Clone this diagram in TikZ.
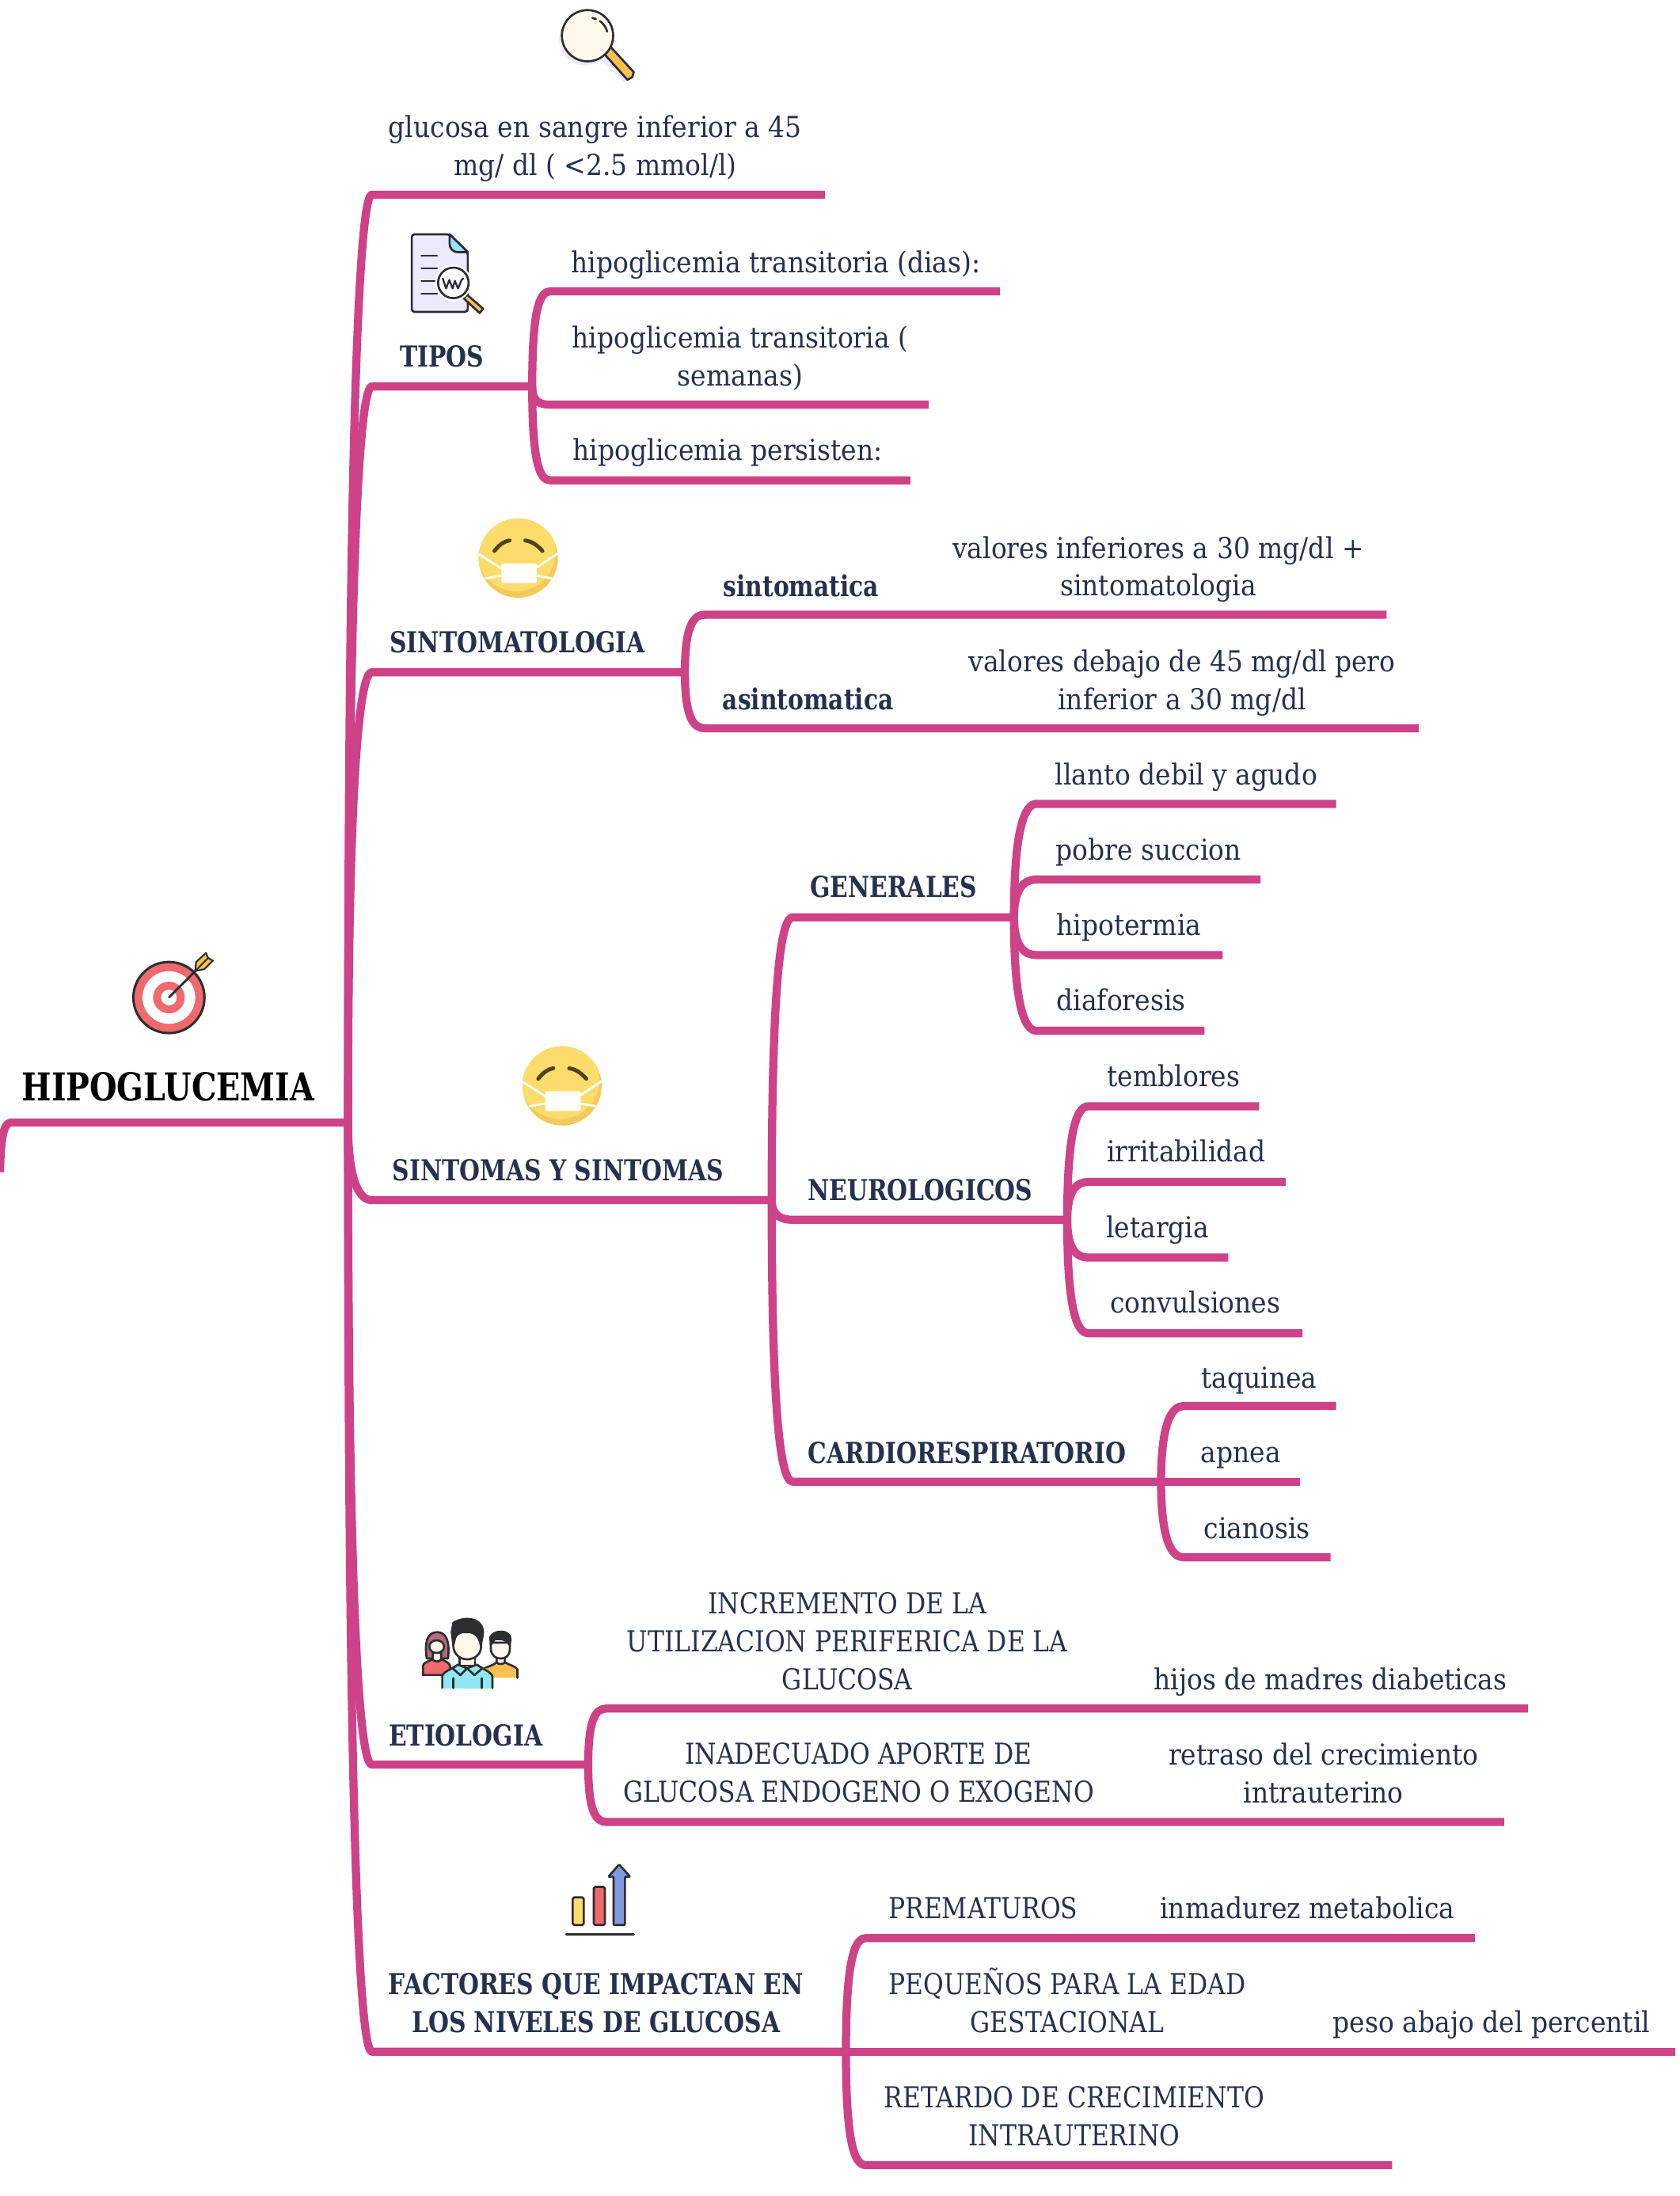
\documentclass[tikz,border=0pt]{standalone}
\usepackage{fontspec}
\setmainfont{DejaVu Serif}[UprightFeatures={FakeStretch=0.905},BoldFeatures={FakeStretch=0.817}]
\newfontfamily\upperfont{DejaVu Serif}[FakeStretch=0.862]
\usetikzlibrary{calc}
\definecolor{mmpink}{RGB}{206,66,135}
\definecolor{mmnavy}{RGB}{37,49,79}
\definecolor{icline}{RGB}{45,45,48}
\definecolor{icorange}{RGB}{255,191,84}
\definecolor{icred}{RGB}{240,105,108}
\definecolor{iccream}{RGB}{255,248,236}
\definecolor{iclav}{RGB}{237,233,255}
\definecolor{icblue}{RGB}{143,232,243}
\definecolor{icyel}{RGB}{252,220,106}
\definecolor{icshade}{RGB}{242,201,90}
\definecolor{icbrow}{RGB}{80,68,32}
\definecolor{icmaroon}{RGB}{176,107,126}
\definecolor{icperi}{RGB}{128,152,222}
\tikzset{
  x=1pt,y=-1pt,
  mmlink/.style={draw=mmpink,line width=5.8pt,line cap=butt,line join=round},
  txt/.style={text=mmnavy,font=\fontsize{20.6}{27}\selectfont,align=center,inner sep=0pt},
  txtup/.style={text=mmnavy,font=\upperfont\fontsize{20.6}{27}\selectfont,align=center,inner sep=0pt},
  hd/.style={text=mmnavy,font=\fontsize{20.6}{27}\selectfont\bfseries,align=center,inner sep=0pt},
  ic/.style={draw=icline,line width=1.5pt,line join=round,line cap=round},
  dsp/.style={x=0.1884pt,y=-0.1884pt},
}
% connector from junction #1 to underline end #2; #3 = horizontal offset of the corner
\newcommand{\branchto}[3]{%
  \path[mmlink] let \p1=(#1),\p2=(#2) in
    (\p1) .. controls ({\x1},{\y1+0.8*(\y2-\y1)}) and ({\x1+#3-8pt},{\y2}) .. ({\x1+#3},{\y2}) -- (\p2);}
\newcommand{\maskface}[2]{%
  \begin{scope}[shift={(#1,#2)}]
    \fill[icshade] (0,0) circle[radius=28.3];
    \begin{scope}
      \clip (0,0) circle[radius=28.3];
      \fill[icyel] (-1.5,-4.6) circle[radius=28.3];
    \end{scope}
    \draw[icbrow,line width=2.8pt,line cap=round] (-17,-5.1) .. controls (-13,-10) and (-10,-12) .. (-6.2,-12.6);
    \draw[icbrow,line width=2.8pt,line cap=round] (5.1,-12.6) .. controls (9,-12) and (13,-10) .. (17.3,-5.1);
    \draw[white,line width=1.6pt] (-27.9,-2.8) -- (-11.9,7.5);
    \draw[white,line width=1.6pt] (-23.7,14.5) -- (-11.9,12.6);
    \draw[white,line width=1.6pt] (28,-3.2) -- (13.2,6.6);
    \draw[white,line width=1.6pt] (24,14.5) -- (13.2,12.6);
    \fill[white,rounded corners=0.8pt] (-11.9,3.8) rectangle (13.2,17.9);
  \end{scope}}
\begin{document}
\begin{tikzpicture}
\path[use as bounding box,fill=white] (0,0) rectangle (1199,1568.1);

% ---- junctions and line ends
\coordinate (rootS) at (0,837);
\coordinate (J0) at (248.5,801.5);
\coordinate (J1) at (380,276);
\coordinate (J2) at (489,480);
\coordinate (J3) at (551,857);
\coordinate (J31) at (724,655);
\coordinate (J32) at (762,871);
\coordinate (J33) at (829,1058);
\coordinate (J5) at (420,1260);
\coordinate (J6) at (604,1465);
\coordinate (eDef) at (589,139);
\coordinate (eT1) at (714,208);
\coordinate (eT2) at (663,289);
\coordinate (eT3) at (650,343);
\coordinate (eS1) at (990,439);
\coordinate (eS2) at (1013,520);
\coordinate (eG1) at (954,574);
\coordinate (eG2) at (900,628);
\coordinate (eG3) at (873,682);
\coordinate (eG4) at (860,736);
\coordinate (eN1) at (899,790);
\coordinate (eN2) at (918,844);
\coordinate (eN3) at (877,898);
\coordinate (eN4) at (930,952);
\coordinate (eC1) at (954,1004);
\coordinate (eC2) at (928,1058);
\coordinate (eC3) at (950,1112);
\coordinate (eE1) at (1091,1220);
\coordinate (eE2) at (1074,1301);
\coordinate (eF1) at (1053,1384);
\coordinate (eF2) at (1196,1465);
\coordinate (eF3) at (994,1546);

% ---- connectors
\path[mmlink] (rootS) .. controls (0.5,815) and (2,801.5) .. (8,801.5) -- (J0);
\branchto{J0}{eDef}{17pt}
\branchto{J0}{J1}{17pt}
\branchto{J0}{J2}{17pt}
\branchto{J0}{J3}{17pt}
\branchto{J0}{J5}{17pt}
\branchto{J0}{J6}{17pt}
\branchto{J1}{eT1}{13pt}
\branchto{J1}{eT2}{13pt}
\branchto{J1}{eT3}{13pt}
\branchto{J2}{eS1}{14pt}
\branchto{J2}{eS2}{14pt}
\branchto{J3}{J31}{15pt}
\branchto{J3}{J32}{15pt}
\branchto{J3}{J33}{15pt}
\branchto{J31}{eG1}{16pt}
\branchto{J31}{eG2}{16pt}
\branchto{J31}{eG3}{16pt}
\branchto{J31}{eG4}{16pt}
\branchto{J32}{eN1}{15pt}
\branchto{J32}{eN2}{15pt}
\branchto{J32}{eN3}{15pt}
\branchto{J32}{eN4}{15pt}
\branchto{J33}{eC1}{16pt}
\path[mmlink] (J33) -- (eC2);
\branchto{J33}{eC3}{16pt}
\branchto{J5}{eE1}{13pt}
\branchto{J5}{eE2}{13pt}
\branchto{J6}{eF1}{14pt}
\path[mmlink] (J6) -- (eF2);
\branchto{J6}{eF3}{14pt}

% ---- texts
\node[font=\fontsize{27.4}{30}\selectfont\bfseries,text=black,inner sep=0pt] (root) at (120,776) {HIPOGLUCEMIA};
\node[txt] (def) at (425,106) {glucosa en sangre inferior a 45\\mg/ dl ( <2.5 mmol/l)};
\node[hd] (tipos) at (315.5,254.5) {TIPOS};
\node[txt] (t1) at (554,189) {hipoglicemia transitoria (dias):};
\node[txt] (t2) at (528.5,256) {hipoglicemia transitoria (\\semanas)};
\node[txt] (t3) at (519.5,323) {hipoglicemia persisten:};
\node[hd] (sinto) at (369.5,458.5) {SINTOMATOLOGIA};
\node[hd] (s1) at (572,418) {sintomatica};
\node[hd] (s2) at (577,499) {asintomatica};
\node[txt] (s1a) at (827,406.5) {valores inferiores a 30 mg/dl +\\sintomatologia};
\node[txt] (s2a) at (844,487.5) {valores debajo de 45 mg/dl pero\\inferior a 30 mg/dl};
\node[hd] (sys) at (398.5,835.5) {SINTOMAS Y SINTOMAS};
\node[hd] (gen) at (638,633.5) {GENERALES};
\node[txt] (g1) at (847,555) {llanto debil y agudo};
\node[txt] (g2) at (820,608.5) {pobre succion};
\node[txt] (g3) at (806,662) {hipotermia};
\node[txt] (g4) at (800.5,714) {diaforesis};
\node[hd] (neu) at (657,849.5) {NEUROLOGICOS};
\node[txt] (n1) at (838,768) {temblores};
\node[txt] (n2) at (847,822) {irritabilidad};
\node[txt] (n3) at (826.5,878) {letargia};
\node[txt] (n4) at (853.5,930) {convulsiones};
\node[hd] (car) at (690.5,1037.5) {CARDIORESPIRATORIO};
\node[txt] (c1) at (899,986) {taquinea};
\node[txt] (c2) at (886,1041) {apnea};
\node[txt] (c3) at (897.5,1091) {cianosis};
\node[hd] (eti) at (332.5,1239.5) {ETIOLOGIA};
\node[txtup] (e1) at (605,1172) {INCREMENTO DE LA\\UTILIZACION PERIFERICA DE LA\\GLUCOSA};
\node[txt] (e1a) at (950,1201) {hijos de madres diabeticas};
\node[txtup] (e2) at (613,1266) {INADECUADO APORTE DE\\GLUCOSA ENDOGENO O EXOGENO};
\node[txt] (e2a) at (945,1266) {retraso del crecimiento\\intrauterino};
\node[hd] (fac) at (425.5,1430.5) {FACTORES QUE IMPACTAN EN\\LOS NIVELES DE GLUCOSA};
\node[txtup] (f1) at (702,1362.5) {PREMATUROS};
\node[txt] (f1a) at (933.5,1362) {inmadurez metabolica};
\node[txtup] (f2) at (762,1428.5) {PEQUEÑOS PARA LA EDAD\\GESTACIONAL};
\node[txt] (f2a) at (1065,1446) {peso abajo del percentil};
\node[txtup] (f3) at (767,1511) {RETARDO DE CRECIMIENTO\\INTRAUTERINO};

% ---- magnifier icon
\fill[iclav] (417.5,28.5) circle[radius=18.3];
\fill[iclav] (428,42) -- (446,59) -- (449,57) -- (432,39) -- cycle;
\draw[ic,fill=icorange] (431,38) -- (436,33.5) -- (452.5,51.5) -- (451.5,55) -- (448,57) -- cycle;
\draw[ic,fill=iccream] (419.5,25.5) circle[radius=18.3];
\draw[ic] (423,12.8) -- (425.5,13.6);
\draw[ic] (428.5,15) .. controls (431,17) and (433,20) .. (433.5,22.6);

% ---- document icon
\draw[ic,fill=iclav,rounded corners=2pt] (294,167.3) -- (321,167.3) -- (334,180) -- (334,222.7) -- (294,222.7) -- cycle;
\draw[ic,fill=icblue] (321,167.3) -- (334,180) -- (327,180) .. controls (323,180) and (321,177) .. (321,174) -- cycle;
\foreach \yy in {182.6,191.6,200.7,209.7} \draw[ic] (301,\yy) -- (312,\yy);
\draw[ic,fill=icorange] (331,213) -- (333.5,210.5) -- (345,220.5) -- (342.5,223.5) -- cycle;
\fill[white] (323.7,202) circle[radius=13];
\draw[ic,fill=white] (323.7,202) circle[radius=10.9];
\draw[icline,line width=1.3pt,line join=round] (316,198.5) -- (318.5,206) -- (320.8,200) -- (323.2,206) -- (324.8,200.5) -- (327,206) -- (329.5,200) -- (331,198.5);

% ---- target icon
\fill[icred] (120.6,712.3) circle[radius=25.4];
\draw[icline,line width=1.7pt] (120.6,712.3) circle[radius=25.4];
\fill[white] (120.6,712.3) circle[radius=18.8];
\fill[icred] (120.6,712.3) circle[radius=11.3];
\fill[white] (120.6,712.3) circle[radius=5.6];
\draw[icline,line width=1.6pt,line cap=round] (120.8,712) -- (139.4,693.4);
\draw[ic,fill=icorange,line width=1.2pt] (139.4,693.4) -- (140,687) -- (147,680.5) -- (148.6,684) -- (152,686) -- (146,692) -- cycle;
\draw[icline,line width=1.1pt] (139.4,693.4) -- (148.6,684);

% ---- masked faces
\maskface{370}{398.5}
\maskface{401.3}{775.4}

% ---- people icon
\begin{scope}[shift={(248.7,1130.6)},dsp]
  % woman
  \draw[ic,fill=icmaroon] (297,285) .. controls (288,220) and (300,185) .. (337,185) .. controls (372,185) and (385,220) .. (378,285) -- cycle;
  \draw[ic,fill=icred] (283,350) -- (283,312) .. controls (285,300) and (305,295) .. (320,288) -- (352,288) .. controls (365,295) and (385,300) .. (386,315) -- (386,348) -- (283,348);
  \fill[white] (280,350) rectangle (390,360);
  \draw[ic,fill=iccream] (320,262) -- (320,290) .. controls (330,298) and (342,298) .. (352,290) -- (352,262) -- cycle;
  \draw[ic,fill=iccream] (335,240) ellipse[x radius=28,y radius=24];
  % right man
  \draw[ic,fill=icorange] (516,322) .. controls (530,315) and (550,310) .. (562,300) -- (595,300) .. controls (610,310) and (630,312) .. (640,325) -- (640,358);
  \fill[icorange] (516,322) -- (640,325) -- (640,358) -- (516,358) -- cycle;
  \draw[ic] (640,325) -- (640,358);
  \draw[ic,fill=iccream] (562,280) -- (562,300) .. controls (570,308) and (585,308) .. (593,300) -- (593,280) -- cycle;
  \draw[ic,fill=iccream] (540,225) -- (540,250) .. controls (542,275) and (560,285) .. (578,285) .. controls (596,285) and (612,275) .. (612,250) -- (612,225) -- cycle;
  \draw[ic,fill=icline] (540,232) -- (538,205) .. controls (545,190) and (560,183) .. (580,183) .. controls (600,183) and (616,195) .. (615,215) -- (610,232) .. controls (600,212) and (580,210) .. (555,212) -- cycle;
  % centre man
  \draw[ic,fill=icblue] (356,397) -- (356,352) .. controls (360,335) and (390,325) .. (415,310) -- (490,310) .. controls (510,325) and (540,335) .. (546,352) -- (546,397);
  \fill[icblue] (358,395) rectangle (544,398);
  \draw[ic] (397,360) -- (397,397);
  \draw[ic] (505,360) -- (505,397);
  \draw[ic,fill=iccream] (422,270) -- (422,312) -- (480,312) -- (480,270) -- cycle;
  \draw[ic,fill=icblue] (415,308) -- (395,322) -- (425,348) -- (450,322) -- (478,348) -- (508,322) -- (487,308) -- (450,322) -- cycle;
  \draw[ic,fill=iccream] (398,185) -- (398,240) .. controls (400,270) and (425,288) .. (450,288) .. controls (478,288) and (503,270) .. (503,240) -- (503,185) -- cycle;
  \draw[ic,fill=icline] (398,235) -- (392,185) -- (398,150) .. controls (420,135) and (455,130) .. (480,140) .. controls (505,150) and (515,175) .. (508,205) -- (502,235) .. controls (498,205) and (480,185) .. (450,183) .. controls (430,182) and (412,190) .. (405,205) -- cycle;
\end{scope}

% ---- chart icon
\begin{scope}[shift={(339.2,1300.2)},dsp]
  \draw[ic,fill=icyel,rounded corners=1pt] (370,290) rectangle (412,395);
  \draw[ic,fill=icred,rounded corners=1pt] (450,250) rectangle (492,395);
  \draw[ic,fill=icperi,rounded corners=0.6pt] (525,395) -- (525,212) -- (505,212) -- (546,165) -- (588,212) -- (568,212) -- (568,395) -- cycle;
  \draw[ic] (345,430) -- (602,430);
\end{scope}
\end{tikzpicture}
\end{document}
